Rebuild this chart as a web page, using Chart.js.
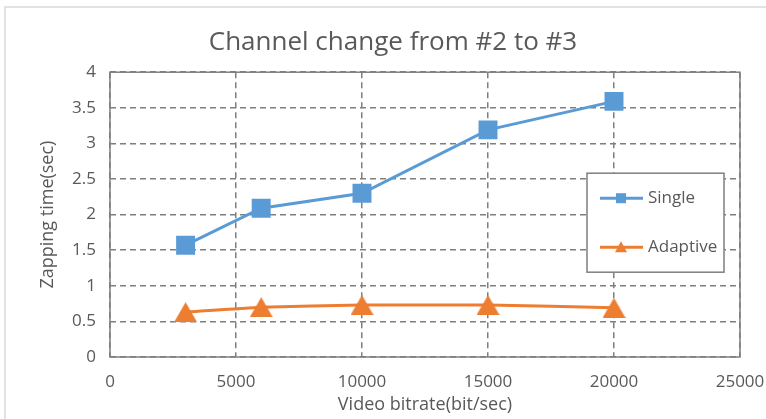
<!DOCTYPE html>
<html>
<head>
<meta charset="utf-8">
<script src="https://cdn.jsdelivr.net/npm/chart.js@4.4.0/dist/chart.umd.min.js"></script>
<style>
  body { margin: 0; background: #fff; }
</style>
</head>
<body>
<canvas id="chart" width="766" height="419"></canvas>
<script>
const bitrates = [3000, 6000, 10000, 15000, 20000];
const singleTimes = [1.57, 2.09, 2.30, 3.19, 3.59];
const adaptiveTimes = [0.63, 0.70, 0.73, 0.73, 0.69];
const seriesNames = ['Single', 'Adaptive'];

const BLUE = '#5b9bd5';
const ORANGE = '#ed7d31';
const GREY = '#7f7f7f';
const TEXT = '#595959';
const FONT = "'Open Sans', sans-serif";

// triangle marker centred on its box (like Excel), not on its centroid
function triangleImage(w, h, color) {
  const c = document.createElement('canvas');
  c.width = w; c.height = h;
  const g = c.getContext('2d');
  g.fillStyle = color;
  g.beginPath();
  g.moveTo(w / 2, 0);
  g.lineTo(w, h);
  g.lineTo(0, h);
  g.closePath();
  g.fill();
  return c;
}

const toPoints = (xs, ys) => xs.map((x, i) => ({ x: x, y: ys[i] }));

const frame = {
  id: 'frame',
  beforeDraw(chart) {
    const ctx = chart.ctx;
    ctx.save();
    ctx.strokeStyle = '#d9d9d9';
    ctx.lineWidth = 1.5;
    ctx.strokeRect(5, 7, 800, 500);
    ctx.restore();
  },
  beforeDatasetsDraw(chart) {
    const a = chart.chartArea;
    const ctx = chart.ctx;
    ctx.save();
    ctx.strokeStyle = GREY;
    ctx.lineWidth = 1.5;
    ctx.setLineDash([]);
    ctx.strokeRect(a.left, a.top, a.right - a.left, a.bottom - a.top);
    ctx.restore();
  },
  afterDraw(chart) {
    const a = chart.chartArea;
    const ctx = chart.ctx;
    const bx = a.right - 153, by = a.top + 101, bw = 137, bh = 99;
    ctx.save();
    ctx.fillStyle = '#fff';
    ctx.fillRect(bx, by, bw, bh);
    ctx.strokeStyle = GREY;
    ctx.lineWidth = 1.5;
    ctx.strokeRect(bx, by, bw, bh);
    ctx.font = '17px ' + FONT;
    ctx.textBaseline = 'middle';
    const rows = [by + 25, by + 74];
    const colors = [BLUE, ORANGE];
    rows.forEach((y, i) => {
      ctx.strokeStyle = colors[i];
      ctx.lineWidth = 3;
      ctx.beginPath();
      ctx.moveTo(bx + 13, y);
      ctx.lineTo(bx + 56, y);
      ctx.stroke();
      ctx.fillStyle = colors[i];
      const mx = bx + 34;
      if (i === 0) {
        ctx.fillRect(mx - 5, y - 5, 10, 10);
      } else {
        ctx.beginPath();
        ctx.moveTo(mx, y - 6);
        ctx.lineTo(mx + 6, y + 5);
        ctx.lineTo(mx - 6, y + 5);
        ctx.closePath();
        ctx.fill();
      }
      ctx.fillStyle = TEXT;
      ctx.fillText(seriesNames[i], bx + 61, y);
    });
    ctx.restore();
  }
};

new Chart(document.getElementById('chart').getContext('2d'), {
  type: 'line',
  data: {
    datasets: [
      {
        label: seriesNames[0],
        data: toPoints(bitrates, singleTimes),
        borderColor: BLUE,
        backgroundColor: BLUE,
        borderWidth: 3,
        pointStyle: 'rect',
        pointRadius: 13.4,
        pointBorderWidth: 0,
        tension: 0
      },
      {
        label: seriesNames[1],
        data: toPoints(bitrates, adaptiveTimes),
        borderColor: ORANGE,
        backgroundColor: ORANGE,
        borderWidth: 3,
        pointStyle: triangleImage(23, 20, ORANGE),
        pointRadius: 11,
        tension: 0.15
      }
    ]
  },
  options: {
    responsive: false,
    animation: false,
    layout: { padding: { left: 46, right: 26, top: 0, bottom: 0 } },
    plugins: {
      legend: { display: false },
      tooltip: { enabled: false },
      title: {
        display: true,
        text: 'Channel change from #2 to #3',
        color: TEXT,
        font: { family: FONT, size: 26, weight: 'normal', lineHeight: 1.2 },
        padding: { top: 27, bottom: 14 }
      }
    },
    scales: {
      x: {
        type: 'linear',
        min: 0,
        max: 25000,
        afterFit: s => { s.height = 62; s.paddingLeft = 0; s.paddingRight = 0; },
        ticks: {
          stepSize: 5000,
          padding: 15,
          color: TEXT,
          font: { family: FONT, size: 17 },
          maxRotation: 0,
          callback: v => String(v)
        },
        grid: { color: GREY, lineWidth: 1.5, drawTicks: false },
        border: { display: false, dash: [6, 4] },
        title: {
          display: true,
          text: 'Video bitrate(bit/sec)',
          color: TEXT,
          font: { family: FONT, size: 18 },
          padding: { top: 0, bottom: 3 }
        }
      },
      y: {
        min: 0,
        max: 4,
        afterFit: s => { s.width = 64; s.paddingTop = 0; s.paddingBottom = 0; },
        ticks: {
          stepSize: 0.5,
          padding: 14,
          color: TEXT,
          font: { family: FONT, size: 17 },
          callback: v => String(v)
        },
        grid: { color: GREY, lineWidth: 1.5, drawTicks: false },
        border: { display: false, dash: [6, 4] },
        title: {
          display: true,
          text: 'Zapping time(sec)',
          color: TEXT,
          font: { family: FONT, size: 18 },
          padding: { top: -9, bottom: 0 }
        }
      }
    }
  },
  plugins: [frame]
});
</script>
</body>
</html>
